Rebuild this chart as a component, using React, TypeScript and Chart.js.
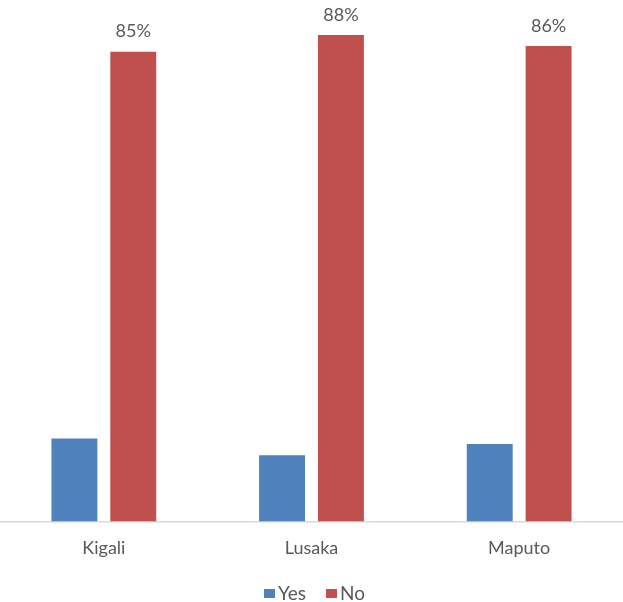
import React, { useEffect, useRef } from "react";
import { Chart, registerables } from "chart.js";

Chart.register(...registerables);

const categories = ["Kigali", "Lusaka", "Maputo"];
const yesValues = [15, 12, 14];
const noValues = [85, 88, 86];
const seriesNames = ["Yes", "No"];

const FONT = "Lato, 'Open Sans', 'Liberation Sans', sans-serif";
const TEXT = "#595959";

const valueLabelPlugin = {
  id: "valueLabels",
  afterDatasetsDraw(chart: any) {
    const ctx = chart.ctx;
    const meta = chart.getDatasetMeta(1);
    ctx.save();
    ctx.font = `18px ${FONT}`;
    ctx.fillStyle = TEXT;
    ctx.textAlign = "center";
    ctx.textBaseline = "middle";
    meta.data.forEach((bar: any, i: number) => {
      const v = chart.data.datasets[1].data[i];
      ctx.fillText(`${v}%`, bar.x, bar.y - 20);
    });
    ctx.restore();
  },
};

const legendPlugin = {
  id: "customLegend",
  afterDraw(chart: any) {
    const ctx = chart.ctx;
    ctx.save();
    ctx.font = `19px ${FONT}`;
    ctx.textBaseline = "middle";
    ctx.textAlign = "left";
    const box = 11;
    const gap = 3;
    const itemGap = 20;
    const items = chart.data.datasets.map((d: any) => ({
      label: d.label,
      color: d.backgroundColor,
      w: box + gap + ctx.measureText(d.label).width,
    }));
    const total = items.reduce((s: number, it: any) => s + it.w, 0) + itemGap * (items.length - 1);
    let x = chart.width / 2 - total / 2 + 3;
    const y = 594;
    items.forEach((it: any) => {
      ctx.fillStyle = it.color;
      ctx.fillRect(x, y - 5, box, 9);
      ctx.fillStyle = TEXT;
      ctx.fillText(it.label, x + box + gap, y);
      x += it.w + itemGap;
    });
    ctx.restore();
  },
};

export default function App() {
  const ref = useRef<HTMLCanvasElement>(null);
  useEffect(() => {
    document.body.style.margin = "0";
    const chart = new Chart(ref.current!, {
      type: "bar",
      data: {
        labels: categories,
        datasets: [
          {
            label: seriesNames[0],
            data: yesValues,
            backgroundColor: "#4F81BD",
            barPercentage: 0.78,
            categoryPercentage: 0.567,
          },
          {
            label: seriesNames[1],
            data: noValues,
            backgroundColor: "#C0504D",
            barPercentage: 0.78,
            categoryPercentage: 0.567,
          },
        ],
      },
      options: {
        responsive: true,
        maintainAspectRatio: false,
        animation: false,
        layout: { padding: { top: 24, bottom: 26.9, left: 0, right: 0 } },
        plugins: { legend: { display: false }, tooltip: { enabled: false } },
        scales: {
          x: {
            grid: { display: false, drawTicks: false },
            border: { display: true, color: "#d9d9d9", width: 1.5 },
            ticks: { color: TEXT, font: { family: FONT, size: 18 }, padding: 16 },
          },
          y: { display: false, min: 0, max: 90 },
        },
      },
      plugins: [valueLabelPlugin, legendPlugin],
    });
    return () => chart.destroy();
  }, []);
  return (
    <div style={{ position: "absolute", left: 0, top: 0, width: 623, height: 602 }}>
      <canvas ref={ref} />
    </div>
  );
}
